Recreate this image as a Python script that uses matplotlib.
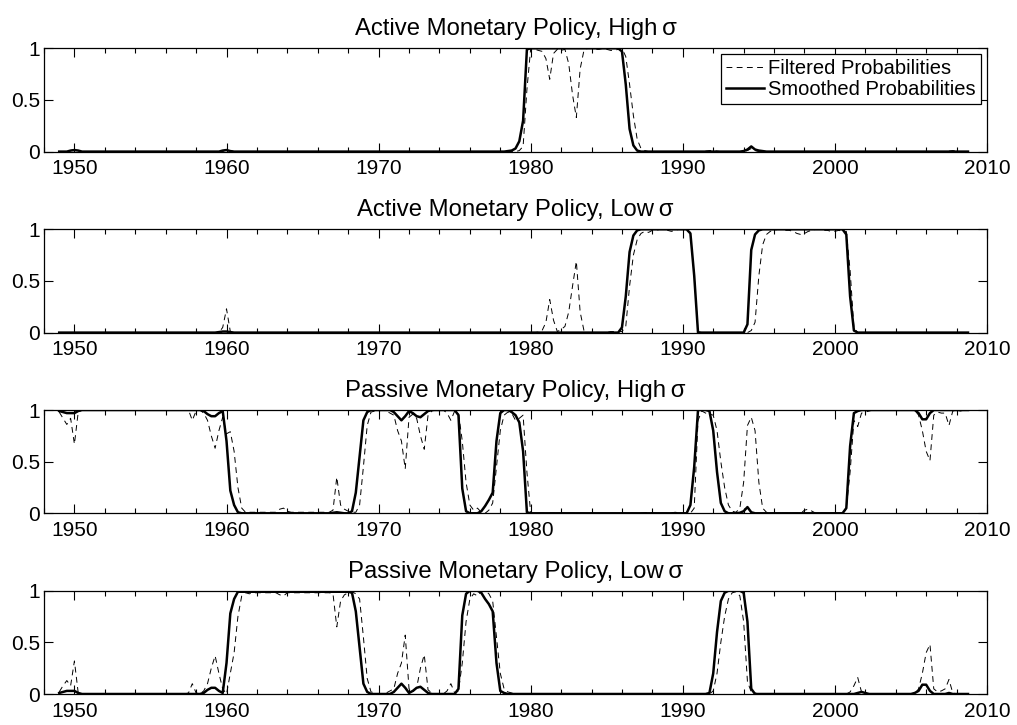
import numpy as np
import matplotlib

matplotlib.use("Agg")
import matplotlib.pyplot as plt
from matplotlib.ticker import MultipleLocator

plt.rcParams["font.family"] = ["Liberation Sans", "DejaVu Sans"]

FIRST_QUARTER = 1949.0
N_QUARTERS = 240  # 1949Q1 .. 2008Q4
quarters = FIRST_QUARTER + 0.25 * np.arange(N_QUARTERS)

YEAR_TICKS = [1950, 1960, 1970, 1980, 1990, 2000, 2010]
PROB_TICKS = [0, 0.5, 1]
PROB_LABELS = ["0", "0.5", "1"]

TITLES = [
    "Active Monetary Policy, High\u2009\u03c3",
    "Active Monetary Policy, Low\u2009\u03c3",
    "Passive Monetary Policy, High\u2009\u03c3",
    "Passive Monetary Policy, Low\u2009\u03c3",
]

# each series: (first quarter of the stretch, values read per quarter);
# quarters not listed read as 0
active_high_smoothed = [
    (1949.75, [0.01, 0.015, 0.01]),
    (1959.75, [0.01, 0.015, 0.005]),
    (1978.5, [0.005, 0.01, 0.03, 0.1, 0.3, 0.99]),
    (1980.0, [1.0] * 24),
    (1986.0, [0.97, 0.65, 0.22, 0.06, 0.01]),
    (1994.0, [0.005, 0.02, 0.05, 0.02, 0.01, 0.005]),
]
active_high_filtered = [
    (1949.75, [0.01, 0.02, 0.01]),
    (1960.0, [0.02, 0.01]),
    (1979.0, [0.0, 0.01, 0.05, 0.6]),
    (1980.0, [1.0, 0.99, 0.98, 0.97, 0.9, 0.7, 0.95, 0.99, 0.98, 0.99,
              0.85, 0.55, 0.33, 0.8, 0.98]),
    (1983.75, [1.0, 1.0, 0.99, 0.99, 1.0, 0.99, 0.98, 0.98, 0.99, 1.0]),
    (1986.25, [0.92, 0.65, 0.35, 0.12, 0.03, 0.01]),
    (1991.5, [0.005, 0.01, 0.01, 0.005]),
    (1994.25, [0.01, 0.03, 0.01]),
    (2007.5, [0.005, 0.01, 0.005]),
]

active_low_smoothed = [
    (1959.5, [0.005, 0.01, 0.01, 0.005]),
    (1986.0, [0.05, 0.35, 0.78, 0.94, 0.99]),
    (1987.25, [1.0] * 13),
    (1990.5, [0.96, 0.55, 0.0]),
    (1994.0, [0.0, 0.08, 0.8, 0.95, 0.99]),
    (1995.25, [1.0] * 22),
    (2000.75, [0.95, 0.35, 0.02]),
]
active_low_filtered = [
    (1959.75, [0.05, 0.23, 0.01]),
    (1980.5, [0.005, 0.02, 0.1, 0.32, 0.12, 0.01, 0.03, 0.06, 0.2, 0.45,
              0.69, 0.2, 0.02]),
    (1985.25, [0.01, 0.01, 0.01, 0.01, 0.06, 0.45, 0.75, 0.9, 0.96, 0.98,
               0.97, 0.99]),
    (1988.25, [0.99, 1.0, 1.0, 0.99, 0.98, 0.99, 1.0, 1.0, 0.99]),
    (1990.5, [0.97, 0.55, 0.01]),
    (1994.5, [0.02, 0.1, 0.55, 0.85, 0.95, 0.98]),
    (1996.0, [0.99, 1.0, 1.0, 0.99, 0.99, 0.98, 0.96, 0.95, 0.96, 0.98,
              0.99, 1.0, 1.0, 0.99, 0.99, 0.98, 0.98, 0.99, 0.98]),
    (2000.75, [0.98, 0.6, 0.05]),
]

passive_high_smoothed = [
    (1949.0, [0.99, 0.98, 0.97, 0.97, 0.97, 0.99]),
    (1950.5, [1.0] * 32),
    (1958.5, [0.99, 0.96, 0.94, 0.94, 0.97, 0.99, 0.7, 0.22, 0.08, 0.01]),
    (1967.0, [0.005, 0.01, 0.005]),
    (1968.25, [0.02, 0.2, 0.55, 0.9, 0.98]),
    (1969.5, [1.0] * 6),
    (1971.0, [0.98, 0.94, 0.9, 0.94, 0.99, 0.97, 0.94, 0.93, 0.96, 0.99]),
    (1973.5, [1.0] * 7),
    (1975.25, [0.95, 0.24, 0.02, 0.0, 0.0, 0.0, 0.02, 0.07, 0.13, 0.2,
               0.7, 0.97]),
    (1978.25, [1.0, 1.0, 0.98, 0.95, 0.88, 0.6, 0.01]),
    (1990.5, [0.08, 0.45, 1.0, 1.0, 1.0, 0.99, 0.8, 0.4, 0.1, 0.02]),
    (1993.75, [0.005, 0.02, 0.06, 0.01]),
    (2000.75, [0.05, 0.65, 0.97, 0.99]),
    (2001.75, [1.0] * 15),
    (2005.5, [0.97, 0.91, 0.91, 0.97]),
    (2006.5, [1.0] * 10),
]
passive_high_filtered = [
    (1949.0, [0.98, 0.92, 0.86, 0.92, 0.67, 0.98]),
    (1950.5, [1.0] * 29),
    (1957.75, [0.9, 0.99, 1.0]),
    (1958.5, [0.97, 0.9, 0.75, 0.63, 0.8, 0.93, 0.77, 0.79, 0.6, 0.25,
              0.05, 0.01]),
    (1961.5, [0.01] * 8),
    (1963.5, [0.04, 0.05, 0.02]),
    (1964.25, [0.01] * 11),
    (1967.0, [0.03, 0.35, 0.08, 0.04, 0.02, 0.01, 0.01, 0.08, 0.45, 0.85,
              0.98, 0.99, 0.99, 1.0, 0.99, 0.97]),
    (1971.0, [0.95, 0.8, 0.7, 0.43, 0.93, 0.96, 0.92, 0.75, 0.62, 0.95,
              0.99]),
    (1973.75, [1.0, 1.0, 1.0, 0.97, 0.9, 0.99]),
    (1975.25, [0.97, 0.7, 0.3, 0.08, 0.03, 0.05, 0.01, 0.0, 0.03, 0.1,
               0.45, 0.8, 0.95, 0.98, 0.97, 0.9, 0.92, 0.95, 0.4]),
    (1987.5, [0.005, 0.01, 0.005]),
    (1989.25, [0.005, 0.01, 0.005]),
    (1990.75, [0.05, 0.9, 0.99, 0.97, 0.96, 0.95, 0.8, 0.5, 0.25, 0.08,
               0.02, 0.01, 0.05, 0.3, 0.85, 0.93, 0.8, 0.3, 0.05, 0.01]),
    (1998.0, [0.03, 0.04, 0.02]),
    (2000.75, [0.05, 0.4, 0.9, 0.84, 0.97, 0.98, 0.99]),
    (2002.5, [1.0] * 12),
    (2005.5, [0.95, 0.8, 0.6, 0.51, 0.95, 0.98, 0.97, 0.97, 0.85, 0.99,
              1.0, 0.99, 1.0, 1.0]),
]

passive_low_smoothed = [
    (1949.0, [0.01, 0.02, 0.03, 0.03, 0.03, 0.01]),
    (1958.5, [0.01, 0.04, 0.06, 0.06, 0.03, 0.01, 0.3, 0.78, 0.92, 0.99]),
    (1961.0, [0.99] * 29),
    (1968.25, [0.98, 0.8, 0.45, 0.1, 0.02]),
    (1971.0, [0.02, 0.06, 0.1, 0.06, 0.01, 0.03, 0.06, 0.07, 0.04, 0.01]),
    (1975.25, [0.05, 0.76, 0.97, 1.0, 1.0, 1.0, 0.98, 0.92, 0.87, 0.8,
               0.3, 0.03, 0.01]),
    (1991.75, [0.01, 0.2, 0.6, 0.9, 0.98, 1.0, 1.0, 1.0, 1.0, 0.98, 0.7,
               0.05]),
    (2001.5, [0.01, 0.02, 0.01]),
    (2005.25, [0.01, 0.03, 0.09, 0.09, 0.03]),
    (2007.5, [0.01]),
]
passive_low_filtered = [
    (1949.0, [0.02, 0.08, 0.13, 0.08, 0.32, 0.01]),
    (1957.5, [0.01, 0.1, 0.01]),
    (1958.5, [0.03, 0.1, 0.25, 0.37, 0.2, 0.05, 0.0, 0.2, 0.4, 0.75,
              0.95, 0.98, 0.97]),
    (1961.75, [0.98] * 7),
    (1963.5, [0.96, 0.95, 0.98]),
    (1964.25, [0.98] * 11),
    (1967.0, [0.97, 0.65, 0.9, 0.96, 0.98, 0.99, 0.97, 0.92, 0.55, 0.15,
              0.02, 0.01]),
    (1970.5, [0.01, 0.03, 0.05, 0.2, 0.3, 0.57, 0.05, 0.02, 0.06, 0.25,
              0.38, 0.04, 0.01]),
    (1974.5, [0.03, 0.1, 0.01]),
    (1975.25, [0.03, 0.3, 0.7, 0.92, 0.97, 0.95, 0.99, 1.0, 0.97, 0.9,
               0.55, 0.2, 0.05, 0.02, 0.01]),
    (1991.75, [0.0, 0.03, 0.2, 0.5, 0.75, 0.92, 0.98, 0.99, 0.95, 0.7,
               0.12, 0.02, 0.01]),
    (2001.0, [0.02, 0.08, 0.16, 0.02]),
    (2005.5, [0.05, 0.2, 0.4, 0.48, 0.05, 0.02, 0.03, 0.05, 0.14, 0.01]),
]


def quarterly(pieces):
    values = np.zeros(N_QUARTERS)
    for start, chunk in pieces:
        i = int(round((start - FIRST_QUARTER) * 4))
        values[i:i + len(chunk)] = chunk
    return values


panels = [
    (active_high_filtered, active_high_smoothed),
    (active_low_filtered, active_low_smoothed),
    (passive_high_filtered, passive_high_smoothed),
    (passive_low_filtered, passive_low_smoothed),
]

# axes boxes in pixels of the 1017x725 figure
W, H = 1017, 725
LEFT_PX, RIGHT_PX = 44, 987
PANEL_TOPS_PX = [48.3, 229.3, 410.0, 590.7]
PANEL_H_PX = 103.3


def main():
    fig = plt.figure(figsize=(W / 100, H / 100), dpi=100)

    for k, (title, (filt, smooth)) in enumerate(zip(TITLES, panels)):
        top = PANEL_TOPS_PX[k]
        ax = fig.add_axes([
            LEFT_PX / W,
            1 - (top + PANEL_H_PX) / H,
            (RIGHT_PX - LEFT_PX) / W,
            PANEL_H_PX / H,
        ])

        ax.plot(quarters, quarterly(filt), color="black", lw=0.7,
                linestyle=(0, (6, 4.5)), label="Filtered Probabilities")
        ax.plot(quarters, quarterly(smooth), color="black", lw=1.8,
                label="Smoothed Probabilities")

        ax.set_xlim(1948, 2010)
        ax.set_ylim(0, 1)
        ax.set_xticks(YEAR_TICKS)
        ax.xaxis.set_minor_locator(MultipleLocator(2))
        ax.set_yticks(PROB_TICKS)
        ax.set_yticklabels(PROB_LABELS)

        ax.tick_params(which="both", direction="in", top=True, right=True,
                       labelsize=15, width=0.8)
        ax.tick_params(which="major", length=6.5)
        ax.tick_params(which="minor", length=3.5)
        ax.tick_params(axis="x", pad=5.5)
        ax.tick_params(axis="y", pad=3)
        for spine in ax.spines.values():
            spine.set_linewidth(0.9)

        ax.set_title(title, fontsize=17.2, pad=9.5)

        if k == 0:
            leg = ax.legend(loc="upper right", fontsize=14.5, frameon=True,
                            fancybox=False, framealpha=1, edgecolor="black",
                            handlelength=1.9, handletextpad=0.2,
                            borderpad=0.25, labelspacing=0.1,
                            borderaxespad=0.3)
            leg.get_frame().set_linewidth(0.9)

    fig.savefig("out.png", dpi=100)
    plt.close(fig)


if __name__ == "__main__":
    main()
